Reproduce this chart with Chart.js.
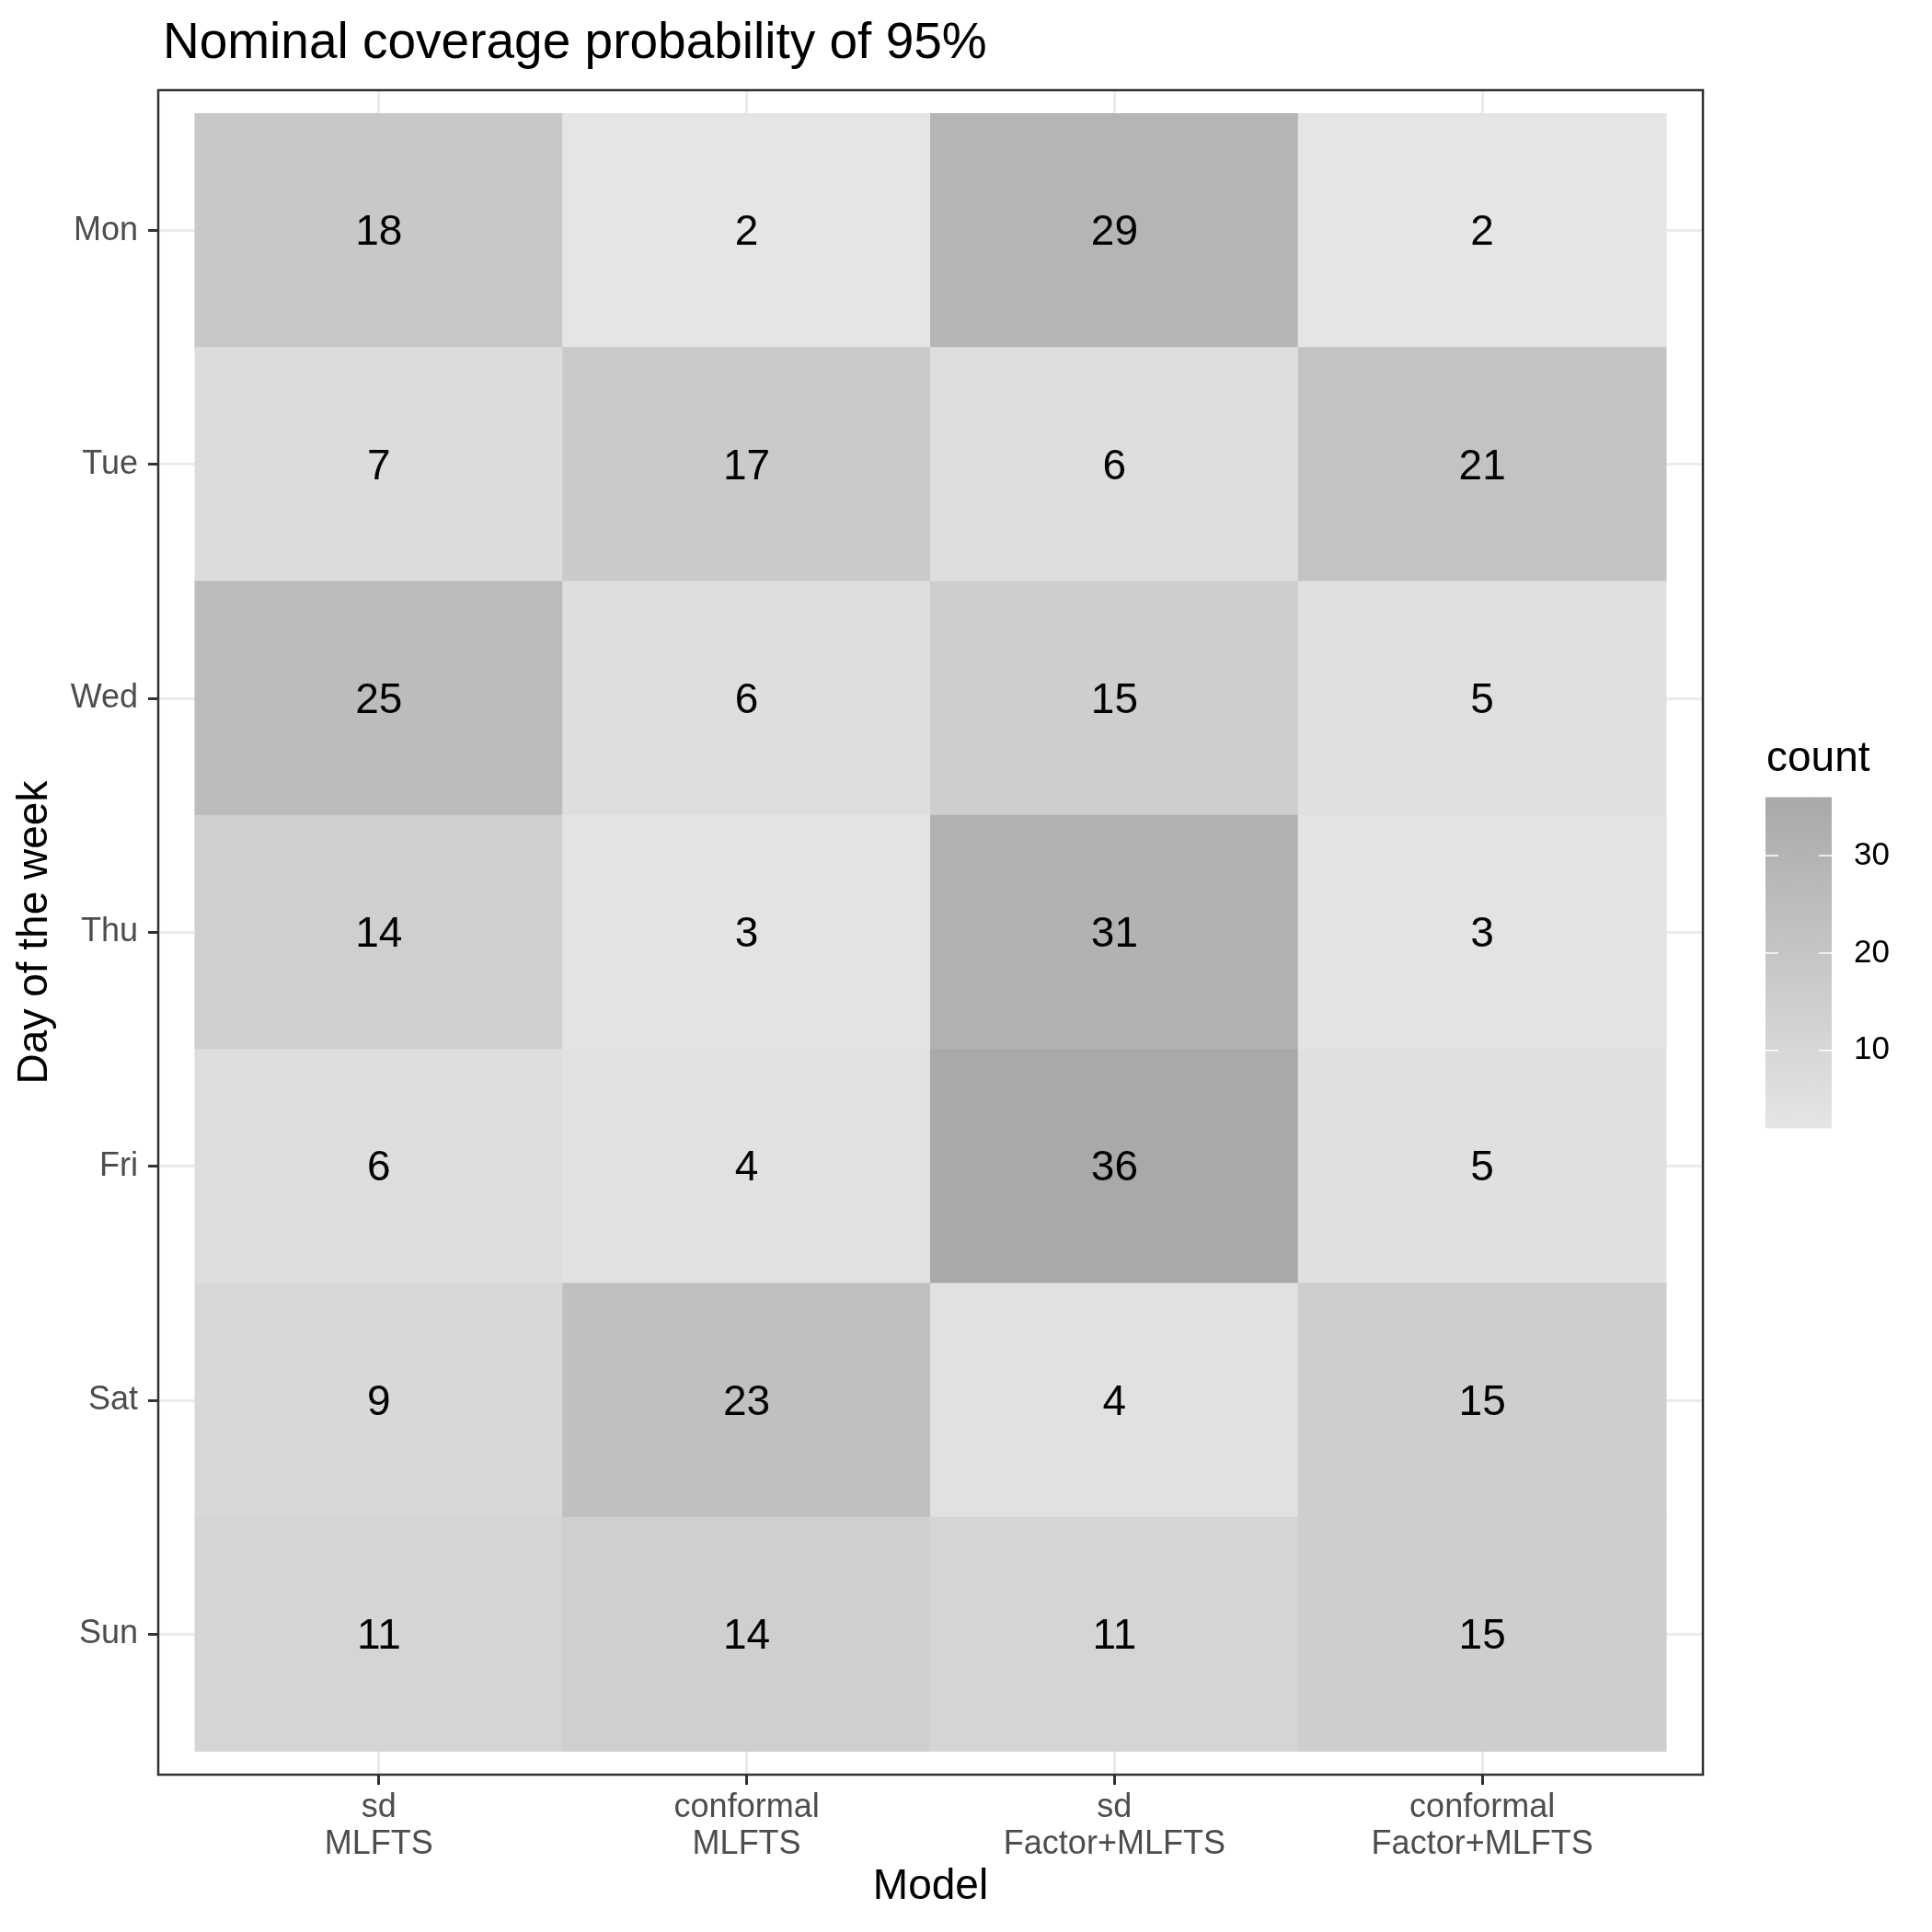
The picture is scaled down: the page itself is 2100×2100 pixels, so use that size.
<!DOCTYPE html>
<html>
<head>
  <title>Nominal coverage probability of 95%</title>
  <style>
   * { margin: 0; padding: 0; box-sizing: border-box; }
   body { background: #fff; }
   #wrap { width: 2100px; height: 2100px; }
  </style>
</head>
<body>
<div id="wrap"><canvas id="heat"></canvas></div>
<script src="https://cdn.jsdelivr.net/npm/chart.js"></script>
<script>
	// data
	const days = ["Mon", "Tue", "Wed", "Thu", "Fri", "Sat", "Sun"];
	const models = [["sd", "MLFTS"], ["conformal", "MLFTS"], ["sd", "Factor+MLFTS"], ["conformal", "Factor+MLFTS"]];
	const counts = [
		[18, 2, 29, 2],   // Mon
		[7, 17, 6, 21],   // Tue
		[25, 6, 15, 5],   // Wed
		[14, 3, 31, 3],   // Thu
		[6, 4, 36, 5],    // Fri
		[9, 23, 4, 15],   // Sat
		[11, 14, 11, 15]  // Sun
	];
	const legendTicks = [10, 20, 30];

	const FONT = "'Liberation Sans', Arial, Helvetica, sans-serif";
	const all = counts.flat();
	const vMin = Math.min(...all), vMax = Math.max(...all);

	// grey gradient, interpolated on CIE L like ggplot does
	const toLin = c => { c /= 255; return c <= 0.04045 ? c / 12.92 : Math.pow((c + 0.055) / 1.055, 2.4); };
	const toSrgb = y => { const c = y <= 0.0031308 ? 12.92 * y : 1.055 * Math.pow(y, 1 / 2.4) - 0.055; return Math.round(255 * c); };
	const fL = y => y > 0.008856 ? 116 * Math.cbrt(y) - 16 : 903.3 * y;
	const invL = L => L > 8 ? Math.pow((L + 16) / 116, 3) : L / 903.3;
	const Llow = fL(toLin(229)), Lhigh = fL(toLin(169));
	function greyFor(v) {
		const t = (v - vMin) / (vMax - vMin);
		const g = toSrgb(invL(Llow + (Lhigh - Llow) * t));
		return `rgb(${g},${g},${g})`;
	}

	const cells = [];
	days.forEach((d, i) => {
		models.forEach((m, j) => {
			cells.push({x: j + 1, y: [i + 0.5, i + 1.5], v: counts[i][j]});
		});
	});

	// numbers inside the tiles
	const cellText = {
		id: 'cellText',
		afterDatasetsDraw(chart) {
			const ctx = chart.ctx;
			const meta = chart.getDatasetMeta(0);
			ctx.save();
			ctx.font = `46px ${FONT}`;
			ctx.fillStyle = '#000';
			ctx.textAlign = 'center';
			ctx.textBaseline = 'middle';
			meta.data.forEach((el, k) => {
				const raw = chart.data.datasets[0].data[k];
				ctx.fillText(String(raw.v), el.x, (el.y + el.base) / 2 + 3);
			});
			ctx.restore();
		}
	};

	// title, panel border and colour bar legend
	const frame = {
		id: 'frame',
		afterDraw(chart) {
			const ctx = chart.ctx;
			const a = chart.chartArea;
			ctx.save();
			ctx.strokeStyle = '#333333';
			ctx.lineWidth = 2.5;
			ctx.strokeRect(a.left, a.top, a.right - a.left, a.bottom - a.top);

			ctx.fillStyle = '#000';
			ctx.font = `55px ${FONT}`;
			ctx.textAlign = 'left';
			ctx.textBaseline = 'alphabetic';
			ctx.fillText('Nominal coverage probability of 95%', 177, 63);

			// legend
			const bx = a.right + 68, bw = 72;
			const mid = (a.top + a.bottom) / 2;
			const by = mid - 147, bh = 360;
			ctx.font = `46px ${FONT}`;
			ctx.fillText('count', bx + 1, by - 29);
			const grad = ctx.createLinearGradient(0, by + bh, 0, by);
			for (let s = 0; s <= 20; s++) {
				grad.addColorStop(s / 20, greyFor(vMin + (vMax - vMin) * s / 20));
			}
			ctx.fillStyle = grad;
			ctx.fillRect(bx, by, bw, bh);
			ctx.strokeStyle = '#ffffff';
			ctx.lineWidth = 1.5;
			ctx.font = `35px ${FONT}`;
			ctx.fillStyle = '#000';
			ctx.textBaseline = 'middle';
			legendTicks.forEach(t => {
				const ty = by + bh - (t - vMin) / (vMax - vMin) * bh;
				ctx.beginPath();
				ctx.moveTo(bx, ty); ctx.lineTo(bx + 14, ty);
				ctx.moveTo(bx + bw - 14, ty); ctx.lineTo(bx + bw, ty);
				ctx.stroke();
				ctx.fillText(String(t), bx + bw + 24, ty);
			});
			ctx.restore();
		}
	};

	new Chart(
		document.getElementById('heat'),
		{
			type: 'bar',
			data: {
				datasets: [{
					label: 'count',
					data: cells,
					backgroundColor: ctx => ctx.raw ? greyFor(ctx.raw.v) : '#ccc',
					borderWidth: 0,
					inflateAmount: 0.5,
					barPercentage: 1,
					categoryPercentage: 1,
					grouped: false
				}]
			},
			options: {
				responsive: true,
				maintainAspectRatio: false,
				devicePixelRatio: 1,
				animation: false,
				layout: { padding: { left: 0, top: 98, right: 249, bottom: 0 } },
				scales: {
					x: {
						type: 'linear',
						offset: false,
						min: 0.4, max: 4.6,
						afterBuildTicks: s => { s.ticks = models.map((m, i) => ({value: i + 1})); },
						afterFit: s => { s.height = 171; },
						border: { display: false },
						grid: { offset: false, color: '#ebebeb', lineWidth: 3, tickColor: '#333333', tickWidth: 3, tickLength: 11 },
						ticks: {
							autoSkip: false, maxRotation: 0, padding: 5,
							color: '#4d4d4d',
							font: { family: FONT, size: 36, lineHeight: 1.11 },
							callback: v => models[v - 1]
						},
						title: {
							display: true, text: 'Model', color: '#000',
							font: { family: FONT, size: 46 },
							padding: { top: 0, bottom: 21 }
						}
					},
					y: {
						type: 'linear',
						reverse: true,
						min: 0.4, max: 7.6,
						afterBuildTicks: s => { s.ticks = days.map((d, i) => ({value: i + 1})); },
						afterFit: s => { s.width = 172; },
						border: { display: false },
						grid: { color: '#ebebeb', lineWidth: 3, tickColor: '#333333', tickWidth: 3, tickLength: 11 },
						ticks: {
							autoSkip: false, padding: 11,
							color: '#4d4d4d',
							font: { family: FONT, size: 36 },
							callback: v => days[v - 1]
						},
						title: {
							display: true, text: 'Day of the week', color: '#000',
							font: { family: FONT, size: 46 },
							padding: { top: 11, bottom: 0 }
						}
					}
				},
				plugins: {
					legend: { display: false },
					tooltip: { enabled: false }
				}
			},
			plugins: [cellText, frame]
		}
	);
</script>
</body>
</html>
